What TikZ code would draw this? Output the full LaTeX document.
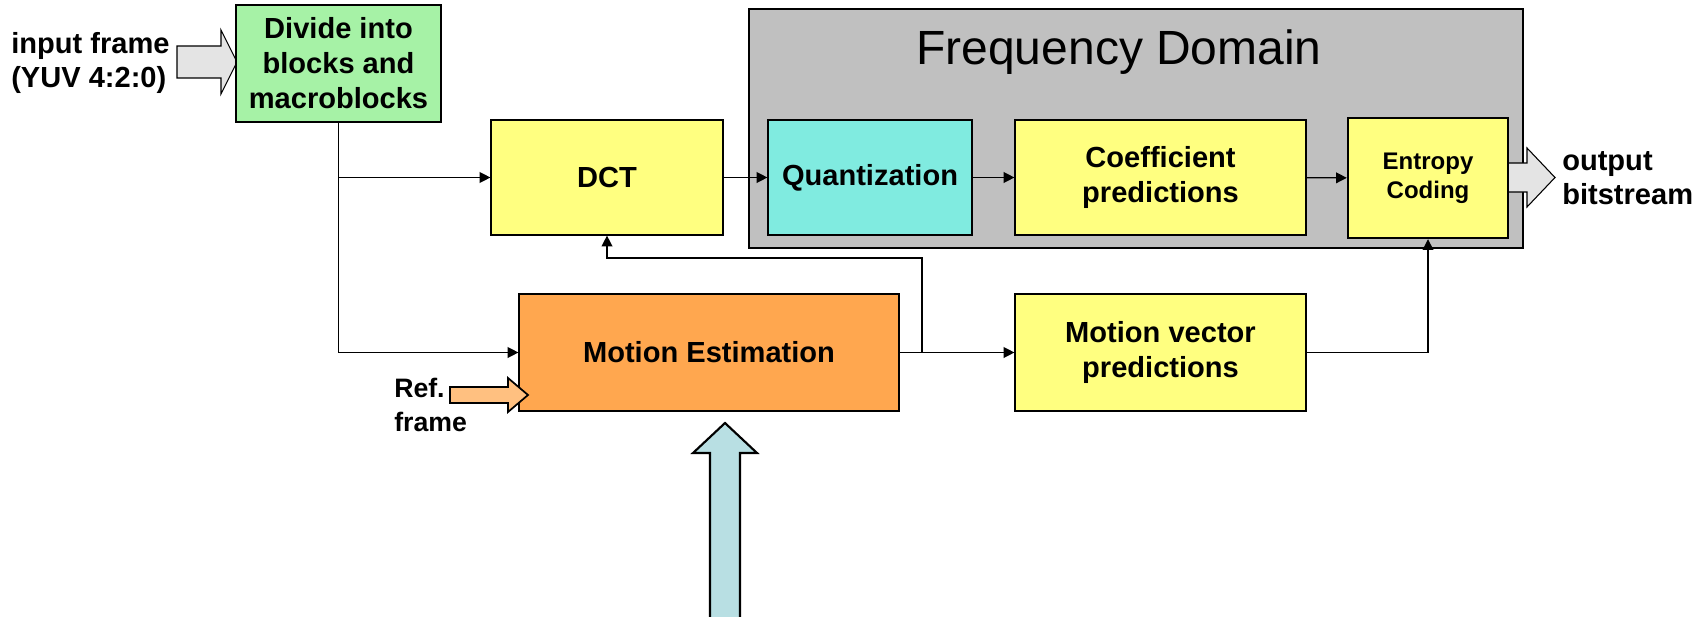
\documentclass[tikz,border=0pt]{standalone}
\usepackage{fontspec}
\setmainfont{Liberation Sans}
\usetikzlibrary{arrows.meta}
\definecolor{divgreen}{RGB}{166,242,166}
\definecolor{blkyellow}{RGB}{255,255,128}
\definecolor{quantcyan}{RGB}{128,235,224}
\definecolor{meorange}{RGB}{255,167,79}
\definecolor{fdgray}{RGB}{192,192,192}
\definecolor{refpeach}{RGB}{255,192,128}
\definecolor{upblue}{RGB}{184,223,227}
\definecolor{iogray}{RGB}{228,228,228}
\tikzset{
  blk/.style={draw=black, line width=0.9pt, inner sep=0pt, align=center,
    font=\bfseries\fontsize{21.8}{26.3}\selectfont},
  conn/.style={draw=black, line width=1pt, -{Triangle[length=8pt,width=8pt]}},
  lbl/.style={inner sep=0pt, align=left, font=\bfseries\fontsize{21.8}{26}\selectfont},
  blockarrow/.style={draw=black, line width=0.8pt, line join=miter}
}
\begin{document}
\begin{tikzpicture}[x=0.75pt,y=-0.75pt]
\useasboundingbox (0,0) rectangle (1706,617);

% frequency-domain frame
\node[draw=black, line width=1.6pt, fill=fdgray, minimum width=580.5pt, minimum height=179.25pt, inner sep=0pt] (fdomain) at (1136,128.5) {};
\node[inner sep=0pt, font=\fontsize{36}{40}\selectfont] (fdtitle) at (1119,52) {Frequency Domain};

% input frame arrow and label
\path[blockarrow, fill=iogray] (177,46) -- (221,46) -- (221,30) -- (237,62) -- (221,94) -- (221,78) -- (177,78) -- cycle;
\node[lbl, anchor=west] (inframe) at (11,63) {input frame\\(YUV 4:2:0)};

% processing blocks
\node[blk, fill=divgreen, minimum width=153.75pt, minimum height=87.75pt] (divide) at (338.5,63.5) {Divide into\\blocks and\\macroblocks};
\node[blk, fill=blkyellow, minimum width=174pt, minimum height=86.25pt] (dct) at (607,177.5) {DCT};
\node[blk, fill=quantcyan, minimum width=153pt, minimum height=86.25pt] (quant) at (870,177.5) {Quantization};
\node[blk, fill=blkyellow, minimum width=218.25pt, minimum height=86.25pt] (coef) at (1160.5,177.5) {Coefficient\\predictions};

% output bitstream arrow and label
\path[blockarrow, fill=iogray] (1505,163) -- (1527,163) -- (1527,148) -- (1555,177.5) -- (1527,207) -- (1527,192) -- (1505,192) -- cycle;
\node[blk, fill=blkyellow, line width=1.8pt, minimum width=120pt, minimum height=90pt,
  font=\bfseries\fontsize{18}{22}\selectfont] (entropy) at (1428,178) {Entropy\\Coding};
\node[lbl, anchor=west] (outbits) at (1562,178) {output\\bitstream};

\node[blk, fill=meorange, minimum width=285pt, minimum height=87.75pt] (me) at (709,352.5) {Motion Estimation};
\node[blk, fill=blkyellow, minimum width=218.25pt, minimum height=87.75pt] (mv) at (1160.5,352.5) {Motion vector\\predictions};

% reference frame input
\path[blockarrow, fill=refpeach, line width=1.3pt] (450,387) -- (508,387) -- (508,378) -- (528,395) -- (508,412) -- (508,403) -- (450,403) -- cycle;
\node[lbl, anchor=west, font=\bfseries\fontsize{20}{26}\selectfont] (reflbl) at (394,405) {Ref.\\frame};

% large upward arrow into motion estimation
\path[blockarrow, fill=upblue, line width=1.6pt] (710,640) -- (710,453) -- (693,453) -- (725,423) -- (757,453) -- (740,453) -- (740,640) -- cycle;

% connectors
\coordinate (split) at (divide.south |- dct.west);
\draw[conn] (divide.south) |- (me.west);
\draw[conn] (split) -- (dct.west);
\draw[conn] (dct) -- (quant);
\draw[conn] (quant) -- (coef);
\draw[conn] (coef) -- (entropy);
\draw[conn] (me) -- (mv);
\coordinate (tap) at (922,352.5);
\coordinate (fb) at (922,258);
\draw[conn] (tap) -- (fb) -| (dct.south);
\draw[conn] (mv.east) -| (entropy.south);
\end{tikzpicture}
\end{document}
